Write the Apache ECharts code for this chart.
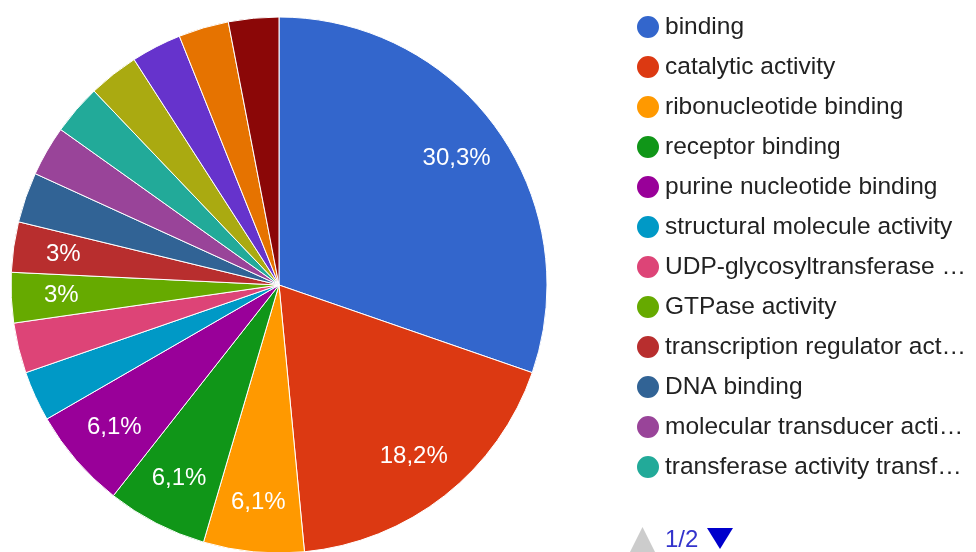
<!DOCTYPE html>
<html>
<head>
<meta charset="utf-8">
<script src="https://cdn.jsdelivr.net/npm/echarts@6/dist/echarts.min.js"></script>
<style>
  html, body { margin: 0; padding: 0; background: #fff; }
  #chart { width: 976px; height: 552px; }
</style>
</head>
<body>
<div id="chart"></div>
<script>
// functions (molecular function terms) and their gene counts
const termNames = [
  'binding',
  'catalytic activity',
  'ribonucleotide binding',
  'receptor binding',
  'purine nucleotide binding',
  'structural molecule activity',
  'UDP-glycosyltransferase activity',
  'GTPase activity',
  'transcription regulator activity',
  'DNA binding',
  'molecular transducer activity',
  'transferase activity transferring glycosyl groups',
  'hydrolase activity',
  'kinase activity',
  'ion binding',
  'oxidoreductase activity'
];
const termCounts = [10, 6, 2, 2, 2, 1, 1, 1, 1, 1, 1, 1, 1, 1, 1, 1];
// slices that get a percentage label (the others are too thin)
const labeledSlices = [
  'binding', 'catalytic activity', 'ribonucleotide binding', 'receptor binding',
  'purine nucleotide binding', 'GTPase activity', 'transcription regulator activity'
];
const palette = [
  '#3366cc', '#dc3912', '#ff9900', '#109618', '#990099', '#0099c6', '#dd4477', '#66aa00',
  '#b82e2e', '#316395', '#994499', '#22aa99', '#aaaa11', '#6633cc', '#e67300', '#8b0707'
];
// legend shows the first page only
const legendPageSize = 12;
const legendPageText = '1/2';

const total = termCounts.reduce((a, b) => a + b, 0);
const pieData = termNames.map((n, i) => ({ name: n, value: termCounts[i] }));

function pctText(v) {
  let s = (Math.round(v / total * 1000) / 10).toFixed(1);
  if (s.endsWith('.0')) s = s.slice(0, -2);
  return s.replace('.', ',') + '%';
}

const font = 'Liberation Sans, Arial';
const chart = echarts.init(document.getElementById('chart'));
chart.setOption({
  animation: false,
  color: palette,
  legend: {
    orient: 'vertical',
    left: 630,
    top: 9,
    itemWidth: 24,
    itemHeight: 24,
    itemGap: 14,
    icon: 'circle',
    data: termNames.slice(0, legendPageSize),
    textStyle: {
      fontFamily: font,
      fontSize: 24.5,
      color: '#222',
      width: 308,
      overflow: 'truncate',
      ellipsis: '…'
    }
  },
  graphic: [
    {
      type: 'polygon', left: 630, top: 527,
      shape: { points: [[12.5, 0], [25, 25], [0, 25]] },
      style: { fill: '#cccccc' }
    },
    {
      type: 'text', left: 665, top: 528,
      style: { text: legendPageText, fill: '#3333cc', font: '24px ' + font }
    },
    {
      type: 'polygon', left: 707, top: 528,
      shape: { points: [[0, 0], [26, 0], [13, 21]] },
      style: { fill: '#0000cc' }
    }
  ],
  series: [
    {
      type: 'pie',
      center: [279, 285],
      radius: [0, 268],
      startAngle: 90,
      clockwise: true,
      data: pieData,
      itemStyle: { borderColor: '#fff', borderWidth: 1 },
      label: { show: false },
      labelLine: { show: false },
      emphasis: { disabled: true }
    },
    {
      // transparent ring used only to place the labels further out
      type: 'pie',
      center: [279, 285],
      radius: [162, 268],
      startAngle: 90,
      clockwise: true,
      silent: true,
      data: pieData,
      itemStyle: { color: 'rgba(0,0,0,0)' },
      label: {
        show: true,
        position: 'inside',
        color: '#fff',
        fontSize: 24,
        fontFamily: font,
        formatter: p => labeledSlices.includes(p.name) ? pctText(p.value) : ''
      },
      labelLine: { show: false },
      emphasis: { disabled: true }
    }
  ]
});
</script>
</body>
</html>
